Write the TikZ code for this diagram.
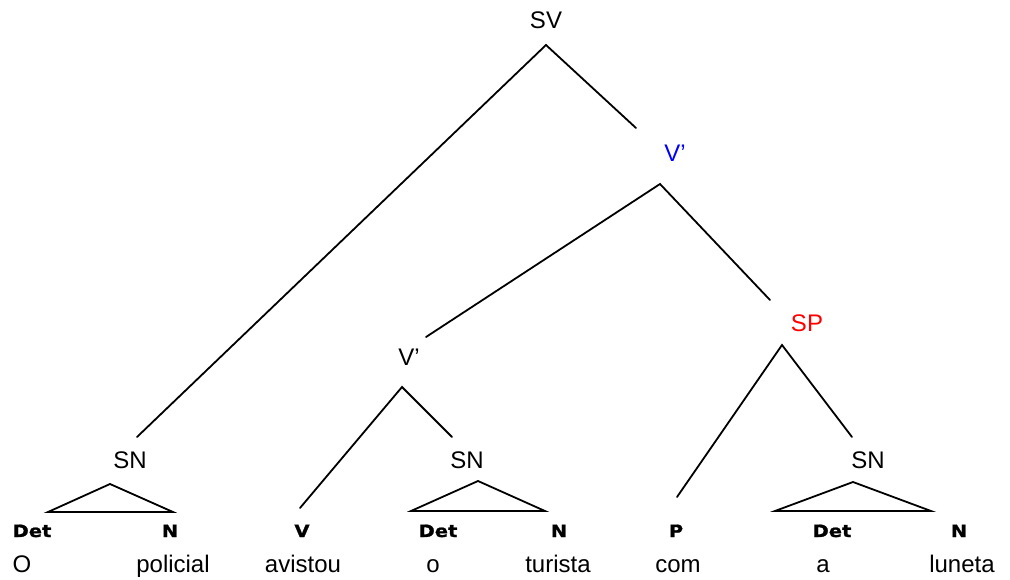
\documentclass[tikz,border=0pt]{standalone}
\usepackage{fontspec}
\setmainfont{Liberation Sans}
\newfontfamily\heavyfont{DejaVu Sans}[FakeStretch=1.15,BoldFeatures={FakeBold=1.2}]
\begin{document}
\begin{tikzpicture}[x=1pt,y=-1pt,
  lbl/.style={anchor=base,inner sep=0pt,font=\fontsize{24}{28}\selectfont},
  cat/.style={anchor=base,inner sep=0pt,font=\heavyfont\bfseries\fontsize{17}{20}\selectfont},
  edge/.style={line width=1.8pt,line cap=round,line join=miter}]
\path[use as bounding box] (0,0) rectangle (1010,579);
% phrase labels
\node[lbl] (sv) at (546,28) {SV};
\node[lbl,text={rgb,255:red,0;green,0;blue,255}] (vb1) at (675,161) {V’};
\node[lbl,text={rgb,255:red,255;green,0;blue,0}] (sp) at (807,331) {SP};
\node[lbl] (vb2) at (409,365) {V’};
\node[lbl] (sn1) at (130,468) {SN};
\node[lbl] (sn2) at (467,468) {SN};
\node[lbl] (sn3) at (868,468) {SN};
% categories
\node[cat] (det1) at (32,537) {Det};
\node[cat] (n1) at (170,537) {N};
\node[cat] (v) at (302,537) {V};
\node[cat] (det2) at (438,537) {Det};
\node[cat] (n2) at (559,537) {N};
\node[cat] (p) at (676,537) {P};
\node[cat] (det3) at (832,537) {Det};
\node[cat] (n3) at (959,537) {N};
% words
\node[lbl] (w1) at (22,572) {O};
\node[lbl] (w2) at (173,572) {policial};
\node[lbl] (w3) at (303,572) {avistou};
\node[lbl] (w4) at (433,572) {o};
\node[lbl] (w5) at (558,572) {turista};
\node[lbl] (w6) at (678,572) {com};
\node[lbl] (w7) at (823,572) {a};
\node[lbl] (w8) at (962,572) {luneta};
% connector end points
\coordinate (sv-a) at (546,45);
\coordinate (sn1-t) at (137,437);
\coordinate (vb1-t) at (636,128);
\coordinate (vb1-a) at (660,184);
\coordinate (vb2-t) at (426,337);
\coordinate (sp-t) at (770,300);
\coordinate (vb2-a) at (402,387);
\coordinate (v-t) at (300,508);
\coordinate (sn2-t) at (452,437);
\coordinate (sp-a) at (782,345);
\coordinate (p-t) at (677,497);
\coordinate (sn3-t) at (852,437);
% tree edges
\draw[edge] (sn1-t) -- (sv-a) -- (vb1-t);
\draw[edge] (vb2-t) -- (vb1-a) -- (sp-t);
\draw[edge] (v-t) -- (vb2-a) -- (sn2-t);
\draw[edge] (p-t) -- (sp-a) -- (sn3-t);
% triangles
\draw[edge] (48,512) -- (110,484) -- (173,512) -- cycle;
\draw[edge] (411,511) -- (478,481) -- (545,511) -- cycle;
\draw[edge] (775,511) -- (853,482) -- (931,511) -- cycle;
\end{tikzpicture}
\end{document}
